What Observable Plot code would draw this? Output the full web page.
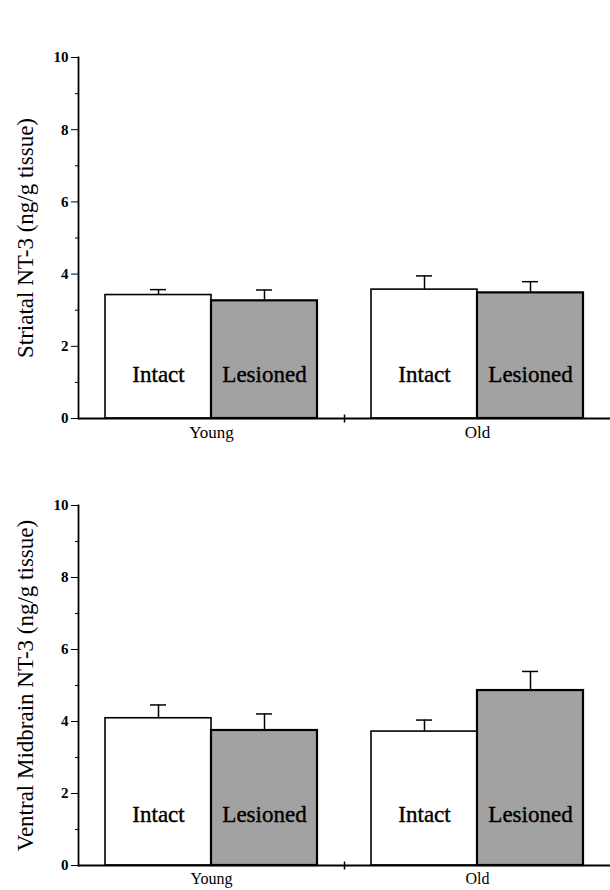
<!DOCTYPE html>
<html><head><meta charset="utf-8">
<script src="https://cdn.jsdelivr.net/npm/d3@7"></script>
<script src="https://cdn.jsdelivr.net/npm/@observablehq/plot@0.6"></script>
<style>
body{margin:0;background:#fff;}
#chart svg{display:block;}
#chart svg text{font-family:"Liberation Serif","Times New Roman",serif;}
</style>
</head><body><div id="chart"></div>
<script>
const groups = ["Young", "Old"];
const conditions = ["Intact", "Lesioned"];
const striatalMeans = [3.42, 3.26, 3.57, 3.48];
const striatalErrors = [0.15, 0.30, 0.38, 0.31];
const midbrainMeans = [4.09, 3.75, 3.72, 4.86];
const midbrainErrors = [0.37, 0.46, 0.32, 0.53];
const yMajorTicks = [0, 2, 4, 6, 8, 10];
const yMinorTicks = [1, 3, 5, 7, 9];
const yTitles = ["Striatal NT-3 (ng/g tissue)", "Ventral Midbrain NT-3 (ng/g tissue)"];
const barFills = {Intact: "#ffffff", Lesioned: "#a2a2a2"};

function makeRows(means, errors) {
  const out = [];
  groups.forEach((g, gi) => conditions.forEach((c, ci) => {
    const i = gi * conditions.length + ci;
    out.push({group: g, condition: c, mean: means[i], err: errors[i]});
  }));
  return out;
}

const vTick = {draw(ctx, size) { const r = Math.sqrt(size / Math.PI); ctx.moveTo(0, -r); ctx.lineTo(0, r); }};
const serif = "Liberation Serif";

function chart(data, title, opts) {
  return Plot.plot({
    width: 610,
    height: opts.height,
    marginLeft: 77,
    marginRight: 0,
    marginTop: opts.marginTop,
    marginBottom: opts.marginBottom,
    style: {background: "#fff", color: "#000", fontFamily: serif},
    fx: {domain: groups, padding: 0},
    x: {domain: conditions, paddingInner: 0, paddingOuter: 0.25, axis: null},
    y: {domain: [0, 10], label: null},
    marks: [
      Plot.barY(data, {fx: "group", x: "condition", y: "mean", fill: d => barFills[d.condition], stroke: "#000", strokeWidth: d => d.condition === "Lesioned" ? 2.2 : 1.6}),
      Plot.ruleX(data, {fx: "group", x: "condition", y1: "mean", y2: d => d.mean + d.err, stroke: "#000", strokeWidth: 1.5}),
      Plot.tickY(data, {fx: "group", x: "condition", y: d => d.mean + d.err, insetLeft: 45, insetRight: 45, stroke: "#000", strokeWidth: 1.5}),
      Plot.text(data, {fx: "group", x: "condition", text: "condition", frameAnchor: "bottom", lineAnchor: "middle", dy: opts.labelDy, fontSize: 23, fontFamily: serif, fill: "#000", stroke: "#000", strokeWidth: 0.4}),
      Plot.ruleY([0], {stroke: "#000", strokeWidth: 1.8}),
      Plot.frame({anchor: "left", facet: "super", stroke: "#000", strokeWidth: 1.8}),
      Plot.dot([0], {frameAnchor: "bottom", facet: "super", symbol: vTick, r: 4, stroke: "#000", strokeWidth: 1.5}),
      Plot.axisY({ticks: yMajorTicks, tickSize: 7, tickPadding: 3, fontSize: 15, fontWeight: "bold", fontFamily: serif, label: null}),
      Plot.axisY({ticks: yMinorTicks, tickSize: 3, tickFormat: () => "", label: null}),
      Plot.axisY({ticks: [], tickSize: 0, label: title, labelAnchor: "center", labelOffset: 62, labelArrow: false, fontSize: 23, fontFamily: serif}),
      Plot.axisFx({anchor: "bottom", tickSize: 0, tickPadding: 7, fontSize: opts.fxFontSize, fontFamily: serif, label: null})
    ]
  });
}

const root = document.getElementById("chart");
root.append(chart(makeRows(striatalMeans, striatalErrors), yTitles[0], {height: 450, marginTop: 57, marginBottom: 32, labelDy: -44, fxFontSize: 17}));
root.append(chart(makeRows(midbrainMeans, midbrainErrors), yTitles[1], {height: 440, marginTop: 55, marginBottom: 25, labelDy: -51, fxFontSize: 16}));
</script>
</body></html>
